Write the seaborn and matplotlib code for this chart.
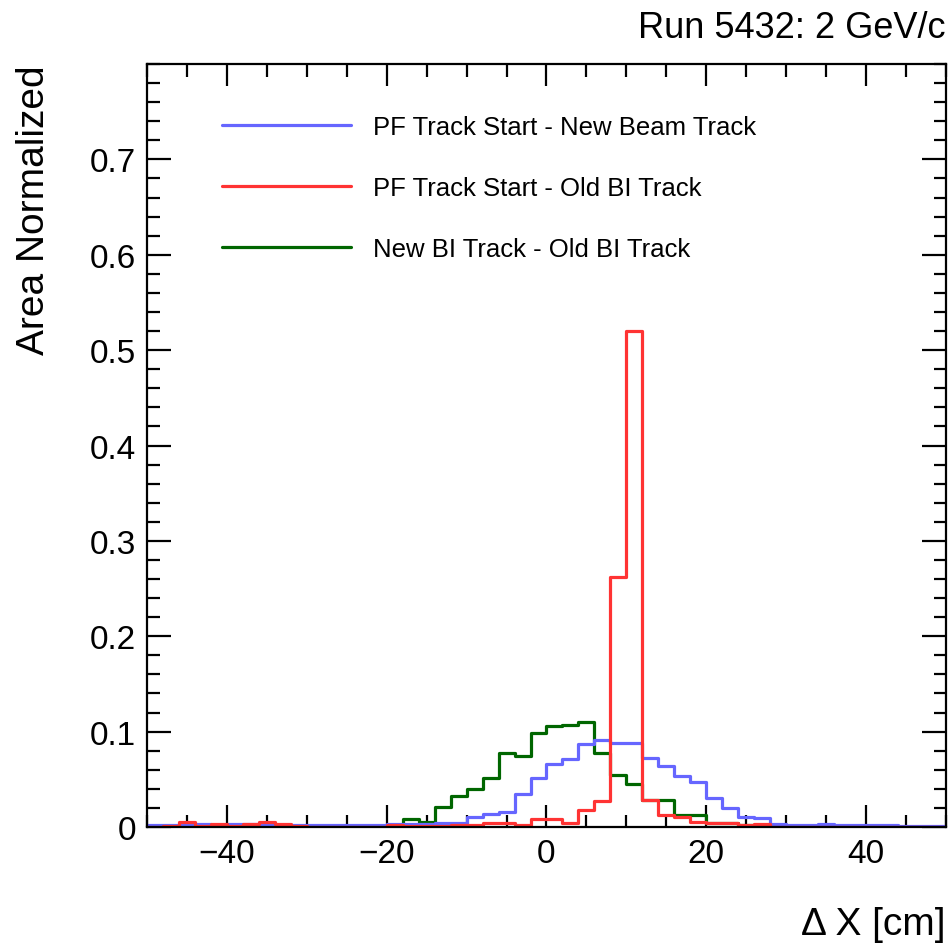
import seaborn as sns
import matplotlib.pyplot as plt
import numpy as np
import pandas as pd
from matplotlib.ticker import MultipleLocator

# bin edges: -50 .. 50 in steps of 2
edges = np.arange(-50, 52, 2)
centers = edges[:-1] + 1

# area normalised contents (one value per bin)
pf_new_beam = [0.002, 0.002, 0.003, 0.003, 0.002, 0.003, 0.003, 0.003, 0.002, 0.002,
               0.002, 0.002, 0.002, 0.002, 0.002, 0.003, 0.003, 0.003, 0.004, 0.004,
               0.010, 0.014, 0.016, 0.035, 0.051, 0.066, 0.071, 0.087, 0.091, 0.088,
               0.088, 0.072, 0.064, 0.054, 0.047, 0.030, 0.020, 0.011, 0.009, 0.003,
               0.002, 0.002, 0.003, 0.002, 0.002, 0.002, 0.002, 0.001, 0.001, 0.001]
pf_old_bi = [0.000, 0.001, 0.005, 0.001, 0.003, 0.001, 0.003, 0.005, 0.003, 0.001,
             0.000, 0.000, 0.000, 0.000, 0.000, 0.002, 0.001, 0.001, 0.001, 0.002,
             0.002, 0.004, 0.004, 0.002, 0.008, 0.008, 0.004, 0.018, 0.027, 0.262,
             0.520, 0.028, 0.013, 0.011, 0.005, 0.004, 0.004, 0.002, 0.003, 0.000,
             0.000, 0.000, 0.000, 0.000, 0.000, 0.000, 0.000, 0.000, 0.000, 0.000]
new_bi_old_bi = [0.000, 0.000, 0.000, 0.000, 0.000, 0.000, 0.000, 0.000, 0.000, 0.000,
                 0.000, 0.000, 0.000, 0.000, 0.000, 0.000, 0.008, 0.005, 0.021, 0.032,
                 0.040, 0.051, 0.078, 0.074, 0.099, 0.106, 0.107, 0.110, 0.078, 0.055,
                 0.045, 0.028, 0.028, 0.0126, 0.0126, 0.004, 0.004, 0.002, 0.002, 0.000,
                 0.000, 0.000, 0.000, 0.000, 0.000, 0.000, 0.000, 0.000, 0.000, 0.000]

labels = ['PF Track Start - New Beam Track',
          'PF Track Start - Old BI Track',
          'New BI Track - Old BI Track']
colors = ['#6666FF', '#FF3333', '#006600']

df = pd.DataFrame({
    'dx': np.tile(centers, 3),
    'w': pf_new_beam + pf_old_bi + new_bi_old_bi,
    'sample': np.repeat(labels, len(centers)),
})

sns.set_style('ticks')
plt.rcParams['font.family'] = ['Liberation Sans', 'DejaVu Sans']
plt.rcParams['text.color'] = 'black'

fig = plt.figure(figsize=(9.49, 9.45), dpi=100)
ax = fig.add_axes([0.1549, 0.1238, 0.8419, 0.8074])

# green first so red sits on top where they overlap
for lab, col in [(labels[2], colors[2]), (labels[0], colors[0]), (labels[1], colors[1])]:
    sns.histplot(data=df[df['sample'] == lab], x='dx', weights='w',
                 binwidth=2, binrange=(-50, 50),
                 element='step', fill=False, color=col, linewidth=2.3, label=lab, ax=ax)

ax.set_xlim(-50, 50)
ax.set_ylim(0, 0.8)
ax.set_xticks([-40, -20, 0, 20, 40])
ax.set_yticks([0, 0.1, 0.2, 0.3, 0.4, 0.5, 0.6, 0.7])
ax.set_yticklabels(['0', '0.1', '0.2', '0.3', '0.4', '0.5', '0.6', '0.7'])
ax.xaxis.set_minor_locator(MultipleLocator(5))
ax.yaxis.set_minor_locator(MultipleLocator(0.02))
ax.tick_params(which='both', direction='in', top=True, right=True, width=1.6,
               labelsize=24, colors='black')
ax.tick_params(axis='x', which='major', length=16, pad=8)
ax.tick_params(axis='x', which='minor', length=9)
ax.tick_params(axis='y', which='major', length=17, pad=8)
ax.tick_params(axis='y', which='minor', length=9)
for s in ax.spines.values():
    s.set_linewidth(1.6)
    s.set_color('black')
ax.set_xlabel('')
ax.set_ylabel('')

fig.text(0.9968, 0.021, '\u0394 X [cm]', ha='right', va='center', fontsize=28)
fig.text(0.036, 0.931, 'Area Normalized', ha='center', va='top', rotation=90, fontsize=28)
fig.text(0.9968, 0.970, 'Run 5432: 2 GeV/c', ha='right', va='center', fontsize=26)

handles, labs = ax.get_legend_handles_labels()
order = [labs.index(l) for l in labels]
ax.legend([handles[i] for i in order], [labs[i] for i in order],
          loc='upper left', bbox_to_anchor=(0.065, 0.964), frameon=False,
          fontsize=18.5, handlelength=5.0, handletextpad=0.86, labelspacing=1.44)

fig.savefig('out.png', dpi=100)
